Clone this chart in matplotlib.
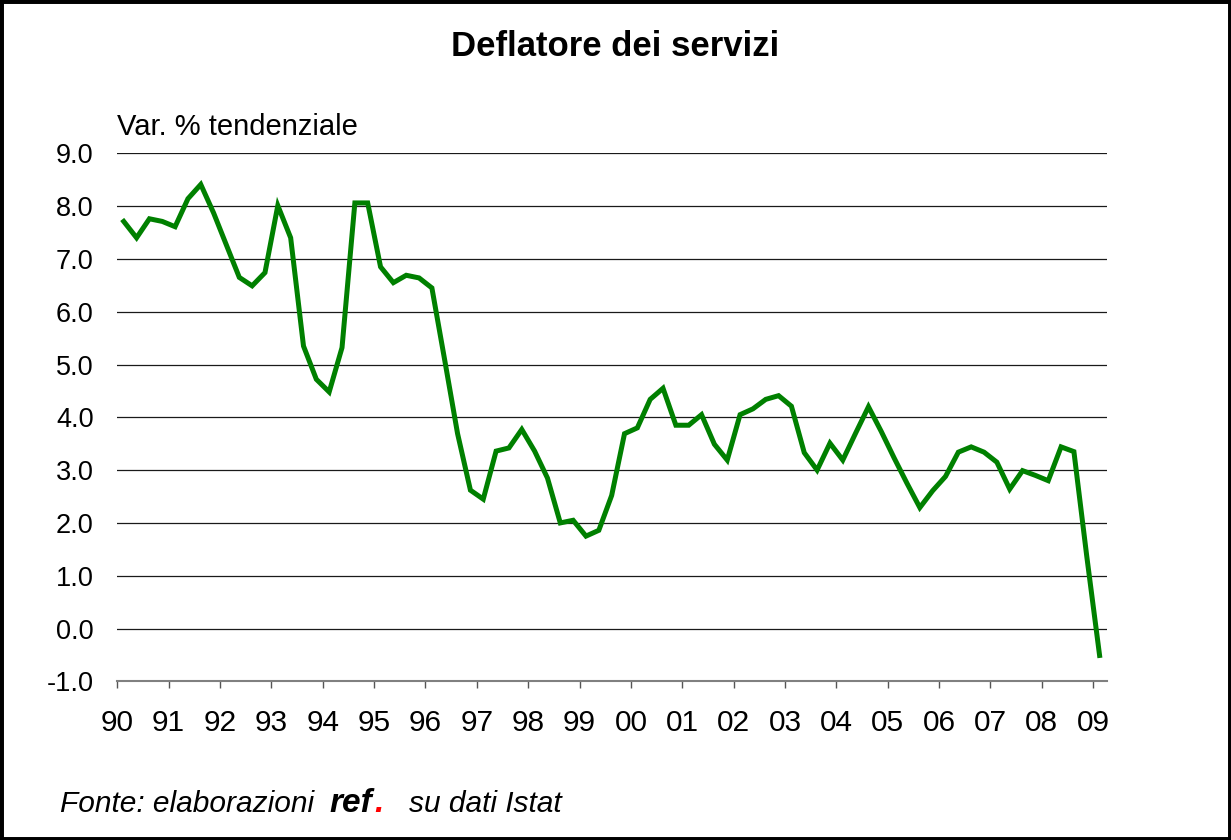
import numpy as np
import matplotlib
matplotlib.use("Agg")
import matplotlib.pyplot as plt
from matplotlib.patches import Rectangle

plt.rcParams['font.family'] = ['Liberation Sans', 'DejaVu Sans']

# dati trimestrali, 1990 T1 - 2009 T1
anno_inizio = 1990
valori = [
    7.71, 7.40, 7.76, 7.71,   # 1990
    7.61, 8.14, 8.41, 7.87,   # 1991
    7.26, 6.65, 6.49, 6.74,   # 1992
    8.01, 7.40, 5.35, 4.72,   # 1993
    4.48, 5.32, 8.06, 8.06,   # 1994
    6.85, 6.55, 6.69, 6.64,   # 1995
    6.45, 5.08, 3.69, 2.62,   # 1996
    2.45, 3.36, 3.42, 3.77,   # 1997
    3.36, 2.85, 2.00, 2.05,   # 1998
    1.75, 1.86, 2.52, 3.69,   # 1999
    3.80, 4.34, 4.55, 3.85,   # 2000
    3.85, 4.05, 3.49, 3.19,   # 2001
    4.05, 4.16, 4.34, 4.41,   # 2002
    4.21, 3.33, 3.00, 3.51,   # 2003
    3.19, 3.70, 4.20, 3.73,   # 2004
    3.23, 2.75, 2.29, 2.61,   # 2005
    2.88, 3.34, 3.44, 3.34,   # 2006
    3.15, 2.64, 2.99, 2.90,   # 2007
    2.80, 3.44, 3.35, 1.37,   # 2008
    -0.51,                    # 2009
]
anni_tick = list(range(1990, 2010))
etichette_x = [f"{a % 100:02d}" for a in anni_tick]
valori_y = [9, 8, 7, 6, 5, 4, 3, 2, 1, 0, -1]

x = anno_inizio + 0.125 + 0.25 * np.arange(len(valori))

fig = plt.figure(figsize=(12.31, 8.4), dpi=100)
ax = fig.add_axes([0.0953, 0.1889, 0.804, 0.6286])

ax.plot(x, valori, color='#008000', lw=3.6, solid_joinstyle='miter', zorder=3)

ax.set_xlim(1990, 2009.27)
ax.set_ylim(-1, 9)
ax.set_yticks(valori_y)
ax.set_yticklabels([f"{v:.1f}" for v in valori_y])
ax.set_xticks(anni_tick)
ax.set_xticklabels(etichette_x)

ax.yaxis.grid(True, color='#1a1a1a', lw=0.9)
ax.set_axisbelow(True)
for lato in ['top', 'right', 'left']:
    ax.spines[lato].set_visible(False)
ax.spines['bottom'].set_color('#808080')
ax.spines['bottom'].set_linewidth(1.5)

ax.tick_params(axis='y', length=0, pad=17, labelsize=19.5)
ax.tick_params(axis='x', length=5, width=1, color='#555555', pad=15, labelsize=21.5)

# titolo e note
fig.text(0.5, 1 - 46 / 840, "Deflatore dei servizi", ha='center', va='center',
         fontsize=25, fontweight='bold')
fig.text(117 / 1231, 1 - 127 / 840, "Var. % tendenziale", ha='left', va='center',
         fontsize=21)

yf = 1 - 804 / 840
fig.text(60 / 1231, yf, "Fonte: elaborazioni", ha='left', va='center',
         fontsize=21.5, style='italic')
fig.text(329 / 1231, yf, "ref", ha='left', va='center',
         fontsize=24, style='italic', fontweight='bold')
fig.text(374 / 1231, yf, ".", ha='left', va='center',
         fontsize=24, style='italic', fontweight='bold', color='#ff0000')
fig.text(409 / 1231, yf, "su dati Istat", ha='left', va='center',
         fontsize=21.5, style='italic')

# cornice esterna
fig.patches.append(Rectangle((0, 0), 1, 1, transform=fig.transFigure,
                             fill=False, edgecolor='black', lw=5))

fig.savefig("out.png", dpi=100)
